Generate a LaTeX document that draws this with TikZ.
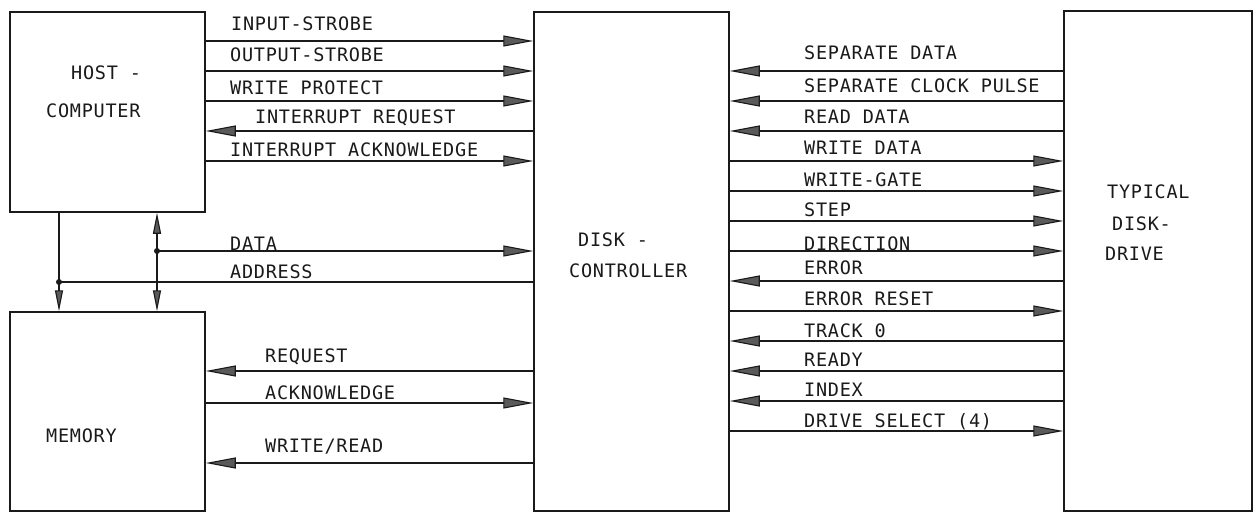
\documentclass[tikz,border=0pt]{standalone}
\usepackage{fontspec}
\newfontfamily\dejamono[LetterSpace=4]{DejaVu Sans Mono}
\newcommand\plotfont{\dejamono\fontsize{18.5}{22}\selectfont}
\usepackage{xcolor}
\definecolor{inkBlack}{HTML}{1A1A1A}
\definecolor{tipGray}{HTML}{5A5A5A}
\usepackage{tikz}
\usetikzlibrary{arrows.meta,positioning,calc}
\tikzset{
  unitbox/.style={
    rectangle,draw=inkBlack,line width=1.5pt,
    inner sep=0pt,fill=white
  },
  boxtxt/.style={anchor=base west,inner sep=0pt,font=\plotfont,text=inkBlack},
  siglbl/.style={anchor=base west,inner sep=0pt,font=\plotfont,text=inkBlack},
  sig/.style={line width=1.1pt,color=inkBlack},
  fwd/.style={sig,-{Triangle[length=30pt,width=11pt,fill=tipGray]}},
  bwd/.style={sig,{Triangle[length=30pt,width=11pt,fill=tipGray]}-},
  vbus/.style={sig,>={Triangle[length=21pt,width=8pt,fill=tipGray]}},
  junct/.style={circle,fill=inkBlack,inner sep=0pt,minimum size=6pt}
}

\begin{document}
\begin{tikzpicture}[x=1pt,y=-1pt]
\useasboundingbox[fill=white] (0,0) rectangle (1258,513);

% units
\node[unitbox,minimum width=195pt,minimum height=200pt] (host)  at (107.5,112) {};
\node[unitbox,minimum width=195pt,minimum height=199pt] (mem)   at (107.5,411.5) {};
\node[unitbox,minimum width=195pt,minimum height=499pt] (ctrl)  at (631.5,261.5) {};
\node[unitbox,minimum width=188pt,minimum height=500pt] (drive) at (1158,261) {};

\node[boxtxt] (hostA)  at (71,80)    {HOST -};
\node[boxtxt] (hostB)  at (46,118)   {COMPUTER};
\node[boxtxt] (memA)   at (46,442)   {MEMORY};
\node[boxtxt] (ctrlA)  at (578,247)  {DISK -};
\node[boxtxt] (ctrlB)  at (569,277)  {CONTROLLER};
\node[boxtxt] (driveA) at (1107,199) {TYPICAL};
\node[boxtxt] (driveB) at (1112,230) {DISK-};
\node[boxtxt] (driveC) at (1105,260) {DRIVE};

% host <-> controller
\draw[fwd] (host.east |- 0,41)  -- (ctrl.west |- 0,41);
\draw[fwd] (host.east |- 0,71)  -- (ctrl.west |- 0,71);
\draw[fwd] (host.east |- 0,101) -- (ctrl.west |- 0,101);
\draw[bwd] (host.east |- 0,131) -- (ctrl.west |- 0,131);
\draw[fwd] (host.east |- 0,161) -- (ctrl.west |- 0,161);
\node[siglbl] (lInStb)  at (231,31)  {INPUT-STROBE};
\node[siglbl] (lOutStb) at (230,62)  {OUTPUT-STROBE};
\node[siglbl] (lWrProt) at (230,95)  {WRITE PROTECT};
\node[siglbl] (lIntReq) at (255,124) {INTERRUPT REQUEST};
\node[siglbl] (lIntAck) at (230,157) {INTERRUPT ACKNOWLEDGE};

% data / address bus
\coordinate (dataJ) at (157,251);
\coordinate (addrJ) at (59,282);
\draw[vbus,<->] (host.south -| dataJ) -- (mem.north -| dataJ);
\draw[vbus,->]  (host.south -| addrJ) -- (mem.north -| addrJ);
\draw[fwd] (dataJ) -- (ctrl.west |- dataJ);
\draw[sig] (ctrl.west |- addrJ) -- (addrJ);
\node[junct] (dataDot) at (dataJ) {};
\node[junct] (addrDot) at (addrJ) {};
\node[siglbl] (lData) at (230,250) {DATA};
\node[siglbl] (lAddr) at (230,278) {ADDRESS};

% memory <-> controller
\draw[bwd] (mem.east |- 0,371) -- (ctrl.west |- 0,371);
\draw[fwd] (mem.east |- 0,403) -- (ctrl.west |- 0,403);
\draw[bwd] (mem.east |- 0,463) -- (ctrl.west |- 0,463);
\node[siglbl] (lReq)  at (265,362) {REQUEST};
\node[siglbl] (lAck)  at (265,399) {ACKNOWLEDGE};
\node[siglbl] (lWrRd) at (265,452) {WRITE/READ};

% controller <-> drive
\draw[bwd] (ctrl.east |- 0,71)  -- (drive.west |- 0,71);
\draw[bwd] (ctrl.east |- 0,101) -- (drive.west |- 0,101);
\draw[bwd] (ctrl.east |- 0,131) -- (drive.west |- 0,131);
\draw[fwd] (ctrl.east |- 0,161) -- (drive.west |- 0,161);
\draw[fwd] (ctrl.east |- 0,191) -- (drive.west |- 0,191);
\draw[fwd] (ctrl.east |- 0,221) -- (drive.west |- 0,221);
\draw[fwd] (ctrl.east |- 0,251) -- (drive.west |- 0,251);
\draw[bwd] (ctrl.east |- 0,281) -- (drive.west |- 0,281);
\draw[fwd] (ctrl.east |- 0,311) -- (drive.west |- 0,311);
\draw[bwd] (ctrl.east |- 0,341) -- (drive.west |- 0,341);
\draw[bwd] (ctrl.east |- 0,371) -- (drive.west |- 0,371);
\draw[bwd] (ctrl.east |- 0,401) -- (drive.west |- 0,401);
\draw[fwd] (ctrl.east |- 0,431) -- (drive.west |- 0,431);
\node[siglbl] (lSepDat) at (804,60)  {SEPARATE DATA};
\node[siglbl] (lSepClk) at (804,93)  {SEPARATE CLOCK PULSE};
\node[siglbl] (lRdDat)  at (804,124) {READ DATA};
\node[siglbl] (lWrDat)  at (804,155) {WRITE DATA};
\node[siglbl] (lWrGate) at (804,187) {WRITE-GATE};
\node[siglbl] (lStep)   at (804,217) {STEP};
\node[siglbl] (lDir)    at (804,250) {DIRECTION};
\node[siglbl] (lErr)    at (804,274) {ERROR};
\node[siglbl] (lErrRst) at (804,305) {ERROR RESET};
\node[siglbl] (lTrk)    at (804,337) {TRACK 0};
\node[siglbl] (lReady)  at (804,366) {READY};
\node[siglbl] (lIndex)  at (804,396) {INDEX};
\node[siglbl] (lDrvSel) at (804,427) {DRIVE SELECT (4)};

\end{tikzpicture}
\end{document}
